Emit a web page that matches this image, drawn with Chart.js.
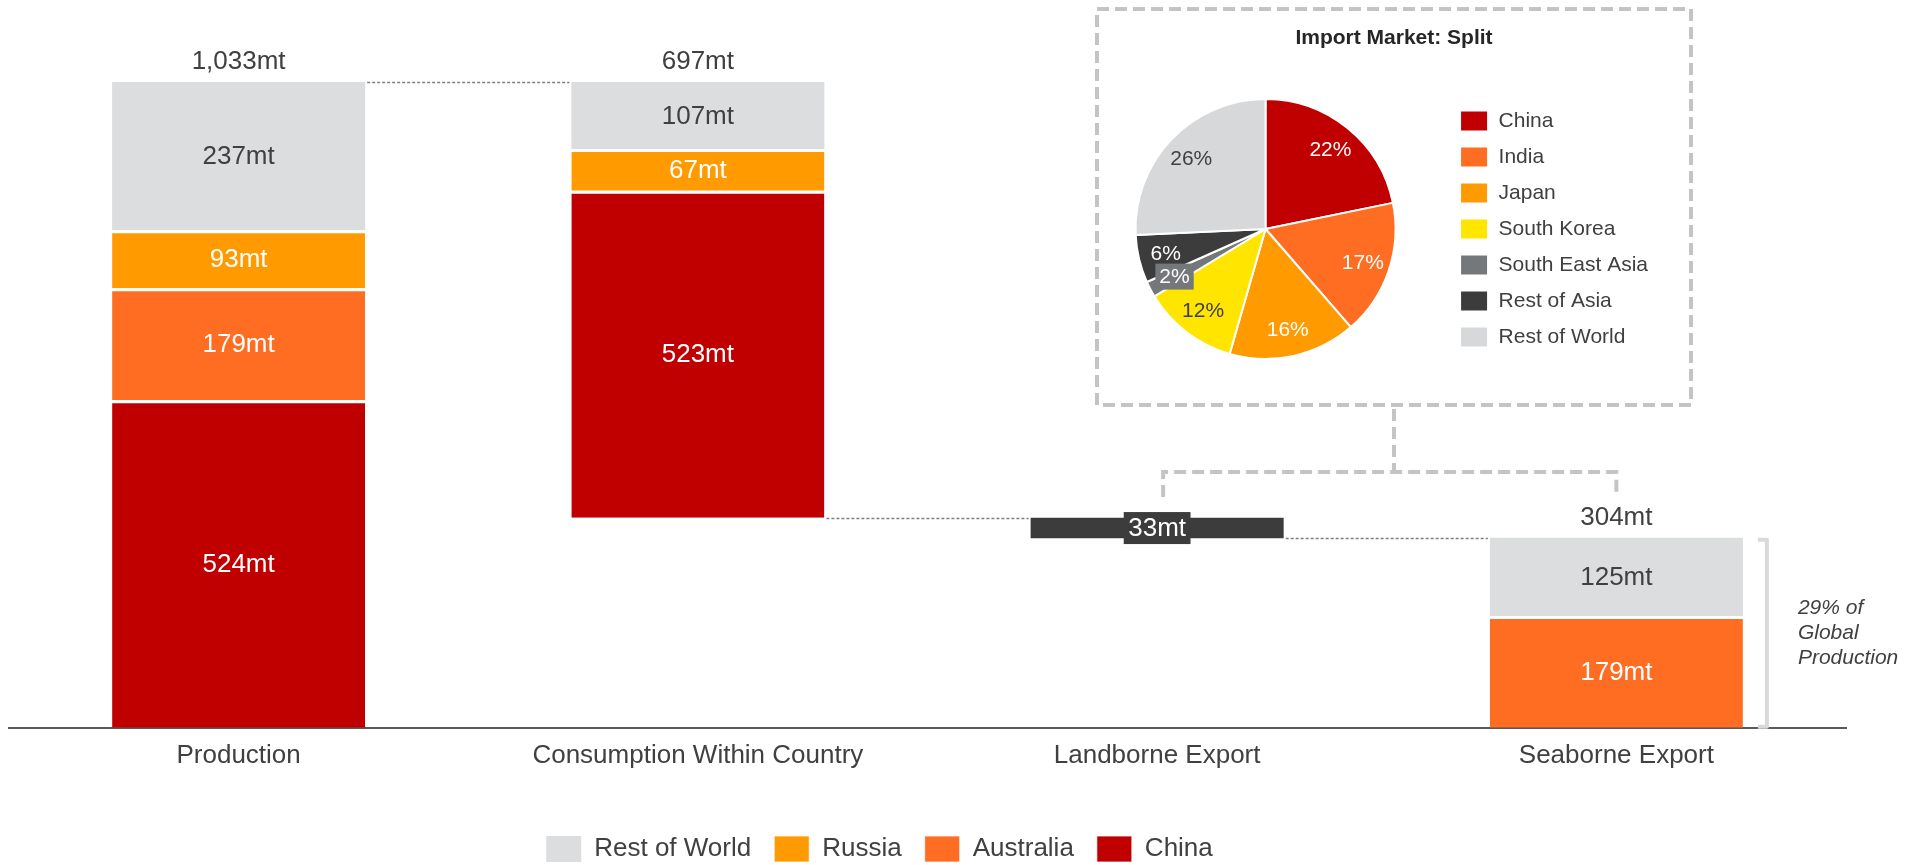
<!DOCTYPE html>
<html>
<head>
<meta charset="utf-8">
<script src="https://cdn.jsdelivr.net/npm/chart.js@4.4.0/dist/chart.umd.min.js"></script>
<style>
  html, body { margin: 0; padding: 0; background: #fff; }
  #wrap { position: relative; width: 1923px; height: 865px; overflow: hidden; }
  #flowBox { position: absolute; left: 0; top: 0; width: 1923px; height: 872px; }
  #pieBox { position: absolute; left: 1086px; top: 79px; width: 572px; height: 300px; }
</style>
</head>
<body>
<div id="wrap">
  <div id="flowBox"><canvas id="flowChart"></canvas></div>
  <div id="pieBox"><canvas id="importPie"></canvas></div>
</div>
<script>
const categories = ['Production', 'Consumption Within Country', 'Landborne Export', 'Seaborne Export'];
const chinaMt = [524, 523, 0, 0];
const australiaMt = [179, 0, 0, 179];
const russiaMt = [93, 67, 0, 0];
const restOfWorldMt = [237, 107, 0, 125];
const landborneMt = [0, 0, 33, 0];

const importRegions = ['China', 'India', 'Japan', 'South Korea', 'South East Asia', 'Rest of Asia', 'Rest of World'];
const importShare = [22, 17, 16, 12, 2, 6, 26];

const seaborneNote = ['29% of', 'Global', 'Production'];

const FONT = '"Liberation Sans", Arial, sans-serif';
const TEXT = '#404040';
Chart.defaults.font.family = FONT;
Chart.defaults.color = TEXT;

const series = [
  { label: 'China', values: chinaMt, color: '#c00000', text: '#fff' },
  { label: 'Australia', values: australiaMt, color: '#ff6d22', text: '#fff' },
  { label: 'Russia', values: russiaMt, color: '#ff9a00', text: '#fff' },
  { label: 'Rest of World', values: restOfWorldMt, color: '#dcdddf', text: TEXT },
  { label: 'Landborne', values: landborneMt, color: '#3c3c3c', text: '#fff' }
];

const totals = categories.map((_, i) => series.reduce((sum, s) => sum + s.values[i], 0));
// waterfall: consumption hangs from the production top, landborne from the consumption bottom
const bases = [0, totals[0] - totals[1], totals[0] - totals[1] - totals[2], 0];

const level = bases.slice();
const datasets = series.map(s => {
  const ranges = s.values.map((v, i) => {
    if (!v) return null;
    const r = [level[i], level[i] + v];
    level[i] += v;
    return r;
  });
  // white seam on top of any segment that has another one stacked on it
  const seams = ranges.map((r, i) => !!r && r[1] < bases[i] + totals[i]);
  return {
    label: s.label,
    data: ranges,
    backgroundColor: s.color,
    borderColor: '#fff',
    borderSkipped: false,
    borderWidth: ctx => seams[ctx.dataIndex] ? { top: 3, right: 0, bottom: 0, left: 0 } : 0,
    grouped: false,
    categoryPercentage: 1,
    barPercentage: 0.551,
    textColor: s.text
  };
});

const inset = { left: 1097, top: 9, width: 594, height: 396 };

const flowLabels = {
  id: 'flowLabels',
  afterDatasetsDraw(chart) {
    const { ctx, scales: { y } } = chart;
    const edges = [];
    const segCount = categories.map(() => 0);
    ctx.save();
    ctx.font = '26px ' + FONT;
    ctx.textAlign = 'center';
    ctx.textBaseline = 'middle';

    chart.data.datasets.forEach((ds, k) => {
      chart.getDatasetMeta(k).data.forEach((bar, i) => {
        if (!ds.data[i]) return;
        const p = bar.getProps(['x', 'y', 'base', 'width'], true);
        edges[i] = { x: p.x, left: p.x - p.width / 2, right: p.x + p.width / 2 };
        segCount[i]++;
        const text = series[k].values[i] + 'mt';
        const cy = (p.y + p.base) / 2;
        if (ds.label === 'Landborne') {
          const w = ctx.measureText(text).width + 9;
          ctx.fillStyle = ds.backgroundColor;
          ctx.fillRect(p.x - w / 2, cy - 16, w, 32);
        }
        ctx.fillStyle = ds.textColor;
        ctx.fillText(text, p.x, cy + 1);
      });
    });

    // stack totals
    ctx.fillStyle = TEXT;
    categories.forEach((c, i) => {
      if (segCount[i] < 2) return;
      const top = y.getPixelForValue(bases[i] + totals[i]);
      ctx.fillText(totals[i].toLocaleString('en-US') + 'mt', edges[i].x, top - 20);
    });

    // dotted links between the steps
    ctx.strokeStyle = '#808080';
    ctx.lineWidth = 1.3;
    ctx.setLineDash([3, 2]);
    const link = (a, b, value) => {
      const py = Math.round(y.getPixelForValue(value)) + 0.5;
      ctx.beginPath();
      ctx.moveTo(edges[a].right + 2, py);
      ctx.lineTo(edges[b].left - 2, py);
      ctx.stroke();
    };
    link(0, 1, totals[0]);
    link(1, 2, bases[1]);
    link(2, 3, bases[2]);

    // bracket beside seaborne
    const sea = edges[3];
    const bTop = y.getPixelForValue(totals[3]) + 2;
    const bBottom = y.getPixelForValue(0) - 1;
    ctx.setLineDash([]);
    ctx.strokeStyle = '#d9d9d9';
    ctx.lineWidth = 4;
    ctx.lineJoin = 'round';
    ctx.beginPath();
    ctx.moveTo(sea.right + 15, bTop);
    ctx.lineTo(sea.right + 24, bTop);
    ctx.lineTo(sea.right + 24, bBottom);
    ctx.lineTo(sea.right + 15, bBottom);
    ctx.stroke();

    ctx.font = 'italic 21px ' + FONT;
    ctx.textAlign = 'left';
    ctx.fillStyle = TEXT;
    const mid = (bTop + bBottom) / 2;
    seaborneNote.forEach((line, n) => {
      ctx.fillText(line, sea.right + 55, mid + (n - 1) * 25);
    });

    // dashed frame for the import split and its pointer to the export bars
    ctx.strokeStyle = '#c4c4c4';
    ctx.lineWidth = 4;
    ctx.setLineDash([12, 6]);
    ctx.lineJoin = 'miter';
    ctx.strokeRect(inset.left, inset.top, inset.width, inset.height);
    const cx = inset.left + inset.width / 2;
    const barY = inset.top + inset.height + 67;
    ctx.beginPath();
    ctx.moveTo(cx, inset.top + inset.height + 4);
    ctx.lineTo(cx, barY);
    ctx.moveTo(edges[2].x + 6, barY + 25);
    ctx.lineTo(edges[2].x + 6, barY);
    ctx.lineTo(sea.x, barY);
    ctx.lineTo(sea.x, barY + 25);
    ctx.stroke();

    ctx.font = 'bold 21px ' + FONT;
    ctx.textAlign = 'center';
    ctx.fillStyle = '#262626';
    ctx.fillText('Import Market: Split', cx, inset.top + 29);
    ctx.restore();
  }
};

// nudges the bottom legend left of the plot centre
const legendShift = {
  id: 'legendShift',
  afterLayout(chart) {
    chart.legend.left -= 48;
    chart.legend.right -= 48;
  }
};

new Chart(document.getElementById('flowChart'), {
  type: 'bar',
  data: { labels: categories, datasets: datasets },
  options: {
    responsive: true,
    maintainAspectRatio: false,
    animation: false,
    events: [],
    layout: { padding: { left: 9, right: 77, top: 82, bottom: 0 } },
    scales: {
      x: {
        grid: { display: false, drawTicks: false },
        border: { display: true, color: '#5a5a5a', width: 2 },
        ticks: { color: TEXT, font: { size: 26 }, padding: 12, maxRotation: 0 },
        afterFit: scale => { scale.height += 30; }
      },
      y: { display: false, min: 0, max: totals[0] }
    },
    plugins: {
      legend: {
        position: 'bottom',
        reverse: true,
        labels: {
          filter: item => item.text !== 'Landborne',
          boxWidth: 35,
          boxHeight: 26,
          padding: 23,
          color: TEXT,
          font: { size: 26 }
        }
      },
      tooltip: { enabled: false }
    }
  },
  plugins: [flowLabels, legendShift]
});

const pieColors = ['#c00000', '#ff6d22', '#ff9a00', '#ffe500', '#75787b', '#3c3c3c', '#d7d8da'];
const pieText = ['#fff', '#fff', '#fff', TEXT, '#fff', '#fff', TEXT];

const pieLabels = {
  id: 'pieLabels',
  afterDatasetsDraw(chart) {
    const { ctx } = chart;
    ctx.save();
    ctx.font = '21px ' + FONT;
    ctx.textAlign = 'center';
    ctx.textBaseline = 'middle';
    chart.getDatasetMeta(0).data.forEach((arc, i) => {
      const a = arc.getProps(['x', 'y', 'startAngle', 'endAngle', 'outerRadius'], true);
      const mid = (a.startAngle + a.endAngle) / 2;
      const px = a.x + Math.cos(mid) * a.outerRadius * 0.79;
      const py = a.y + Math.sin(mid) * a.outerRadius * 0.79;
      const text = importShare[i] + '%';
      if (importShare[i] < 5) {
        const w = ctx.measureText(text).width + 8;
        ctx.fillStyle = pieColors[i];
        ctx.fillRect(px - w / 2, py - 13, w, 26);
      }
      ctx.fillStyle = pieText[i];
      ctx.fillText(text, px, py + 1);
    });
    ctx.restore();
  }
};

new Chart(document.getElementById('importPie'), {
  type: 'pie',
  data: {
    labels: importRegions,
    datasets: [{
      data: importShare,
      backgroundColor: pieColors,
      borderColor: '#fff',
      borderWidth: 2,
      radius: 130
    }]
  },
  options: {
    responsive: true,
    maintainAspectRatio: false,
    animation: false,
    events: [],
    plugins: {
      legend: {
        position: 'right',
        labels: { boxWidth: 28, boxHeight: 21, padding: 15, color: TEXT, font: { size: 21 } }
      },
      tooltip: { enabled: false }
    }
  },
  plugins: [pieLabels]
});
</script>
</body>
</html>
